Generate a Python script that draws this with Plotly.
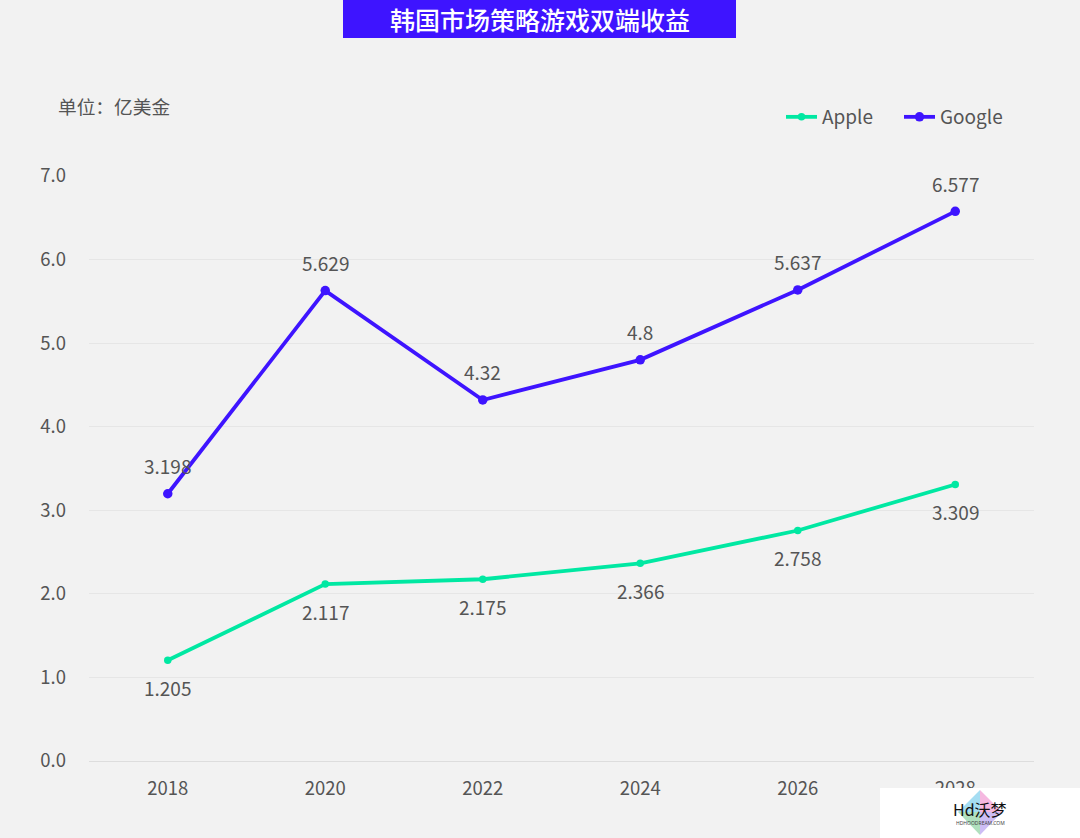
import plotly.graph_objects as go

years = ["2018", "2020", "2022", "2024", "2026", "2028"]
apple = [1.205, 2.117, 2.175, 2.366, 2.758, 3.309]
google = [3.198, 5.629, 4.32, 4.8, 5.637, 6.577]
y_ticks = [0, 1, 2, 3, 4, 5, 6, 7]

title_text = "韩国市场策略游戏双端收益"
unit_text = "单位：亿美金"

FONT = "Noto Sans CJK SC"
GREEN = "#00E8A2"
BLUE = "#3E14FF"
GREY = "#555555"
W, H = 1080, 838
LEFT, RIGHT, TOP, BOTTOM = 89, 46, 176, 77
PLOT_W = W - LEFT - RIGHT
PLOT_H = H - TOP - BOTTOM


# pixel position in the page -> paper coordinates (paper is the plot area)
def px(x):
    return (x - LEFT) / PLOT_W


def py(y):
    return (H - BOTTOM - y) / PLOT_H


def add_labels(fig, values, shift):
    # number-like categories: annotations need the category index, not the name
    for i, v in enumerate(values):
        fig.add_annotation(x=i, y=v, text=str(v), showarrow=False, yshift=shift,
                           font=dict(size=19, color=GREY, family=FONT))


def add_text(fig, x, y, text, font, xanchor="center"):
    fig.add_annotation(xref="paper", yref="paper", x=px(x), y=py(y), text=text, showarrow=False,
                       xanchor=xanchor, yanchor="middle", font=font)


fig = go.Figure()
fig.add_trace(go.Scatter(x=years, y=apple, name="Apple", mode="lines+markers", cliponaxis=False,
                         line=dict(color=GREEN, width=3.8), marker=dict(color=GREEN, size=7.5),
                         legend="legend", showlegend=True))
fig.add_trace(go.Scatter(x=years, y=google, name="Google", mode="lines+markers", cliponaxis=False,
                         line=dict(color=BLUE, width=3.8), marker=dict(color=BLUE, size=9.5),
                         legend="legend2", showlegend=True))

add_labels(fig, apple, -27)
add_labels(fig, google, 28)

# title bar
fig.add_shape(type="rect", xref="paper", yref="paper", x0=px(343), x1=px(736), y0=py(38), y1=py(0),
              fillcolor=BLUE, line_width=0, layer="above")
add_text(fig, 540, 19, title_text, dict(size=25, color="white", family=FONT, weight=500))
add_text(fig, 56, 106, unit_text, dict(size=18.7, color=GREY, family=FONT), xanchor="left")

# watermark box and logo
fig.add_shape(type="rect", xref="paper", yref="paper", x0=px(880), x1=px(1080), y0=py(838), y1=py(788),
              fillcolor="white", line_width=0, layer="above")
logo = [("#A5DDF2", 980, 790, 958, 812),
        ("#F5B8E0", 980, 790, 1002, 812),
        ("#B0E0BE", 980, 835, 958, 812),
        ("#CDBDF5", 980, 835, 1002, 812)]
for color, ax, ay, bx, by in logo:
    path = f"M {px(ax)} {py(ay)} L {px(bx)} {py(by)} L {px(980)} {py(812)} Z"
    fig.add_shape(type="path", xref="paper", yref="paper", path=path, fillcolor=color,
                  line_width=0, layer="above")
add_text(fig, 980, 809, "Hd沃梦", dict(size=16, color="#111111", family=FONT))
add_text(fig, 980, 823, "HDHOODREAM.COM", dict(size=5, color="#444444", family="Noto Sans"))

legend_style = dict(orientation="h", xanchor="left", yanchor="middle", y=py(117),
                    bgcolor="rgba(0,0,0,0)", itemwidth=31, font=dict(size=19, color=GREY))

fig.update_layout(
    width=W,
    height=H,
    showlegend=True,
    margin=dict(l=LEFT, r=RIGHT, t=TOP, b=BOTTOM, autoexpand=False),
    paper_bgcolor="#F2F2F2",
    plot_bgcolor="#F2F2F2",
    font=dict(family=FONT, size=18, color=GREY),
    legend=dict(x=px(781), **legend_style),
    legend2=dict(x=px(899), **legend_style),
    xaxis=dict(type="category", categoryorder="array", categoryarray=years, range=[-0.5, 5.5],
               showgrid=False, showline=True, linecolor="#DDDDDD", linewidth=1, ticks="",
               ticklabelstandoff=11, tickfont=dict(size=18.5, color=GREY, family=FONT)),
    yaxis=dict(range=[0, 7], tickvals=y_ticks, tickformat=".1f", showgrid=True, gridcolor="#E6E6E6",
               gridwidth=1, zeroline=False, showline=False, ticks="", ticklen=0,
               ticklabelstandoff=22, tickfont=dict(size=18.5, color=GREY, family=FONT)),
)

fig.write_html("out.html", config=dict(displayModeBar=False),
               post_script="document.body.style.margin='0';")
